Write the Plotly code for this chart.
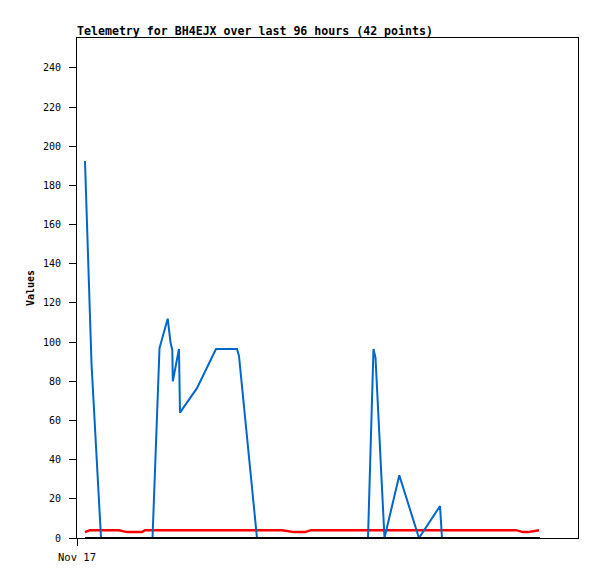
"""Telemetry chart for BH4EJX, last 96 hours."""

import plotly.graph_objects as go

# hours since Nov 17 00:00
blue_hours = [1.53, 2.78, 4.60, 14.47, 15.81, 17.38, 17.91, 18.26, 18.36, 19.54,
              19.73, 22.99, 26.63, 30.66, 31.04, 34.49, 55.76, 56.81, 57.20, 58.92,
              61.76, 65.53, 69.56, 69.94, 88.72]
blue_values = [192.5, 89, 0, 0, 97, 112, 100, 96, 80, 96.5,
               64, 76.5, 96.5, 96.5, 93, 0, 0, 96.5, 92, 0,
               32, 0, 16.3, 0, 0]

red_hours = [1.53, 2.49, 8.05, 9.58, 12.46, 13.03, 39.28, 41.58, 43.69, 44.84,
             84.12, 85.46, 86.42, 88.53]
red_values = [3, 4, 4, 3, 3, 4, 4, 3, 3, 4, 4, 3, 3, 4]

black_hours = [1.53, 88.72]
black_values = [0, 0]

y_ticks = list(range(0, 241, 20))

MONO = "DejaVu Sans Mono"

# the page body adds an 8px margin, so the figure is 8px smaller
W, H = 589, 571

fig = go.Figure()
fig.add_trace(go.Scatter(x=red_hours, y=red_values, mode="lines",
                         line=dict(color="#FF0000", width=2.5)))
fig.add_trace(go.Scatter(x=blue_hours, y=blue_values, mode="lines",
                         line=dict(color="#0066CC", width=2)))
fig.add_trace(go.Scatter(x=black_hours, y=black_values, mode="lines",
                         line=dict(color="#000000", width=2)))

fig.update_layout(
    width=W,
    height=H,
    margin=dict(l=69, r=19, t=30, b=41),
    paper_bgcolor="white",
    plot_bgcolor="white",
    showlegend=False,
    font=dict(family=MONO, size=10, color="black"),
    title=dict(
        text="<b>Telemetry for BH4EJX over last 96 hours (42 points)</b>",
        font=dict(family=MONO, size=11.6, color="black"),
        x=69 / W, xanchor="left", xref="container",
        y=1 - 23 / H, yanchor="middle", yref="container",
    ),
)
fig.update_xaxes(
    range=[0, 96],
    tickvals=[0],
    ticktext=["Nov 17"],
    ticks="outside",
    ticklen=7,
    tickcolor="black",
    showgrid=False,
    zeroline=False,
    showline=True,
    linecolor="black",
    linewidth=1,
    mirror=True,
    tickfont=dict(family=MONO, size=10.5),
    ticklabelstandoff=2,
)
fig.update_yaxes(
    range=[0, 255.3],
    tickvals=y_ticks,
    ticks="outside",
    ticklen=7,
    tickcolor="black",
    showgrid=False,
    zeroline=False,
    showline=True,
    linecolor="black",
    linewidth=1,
    mirror=True,
    tickfont=dict(family=MONO, size=10),
    ticklabelstandoff=6,
    title=dict(text="<b>Values</b>", font=dict(family=MONO, size=10), standoff=6),
)

fig.write_html("out.html")
